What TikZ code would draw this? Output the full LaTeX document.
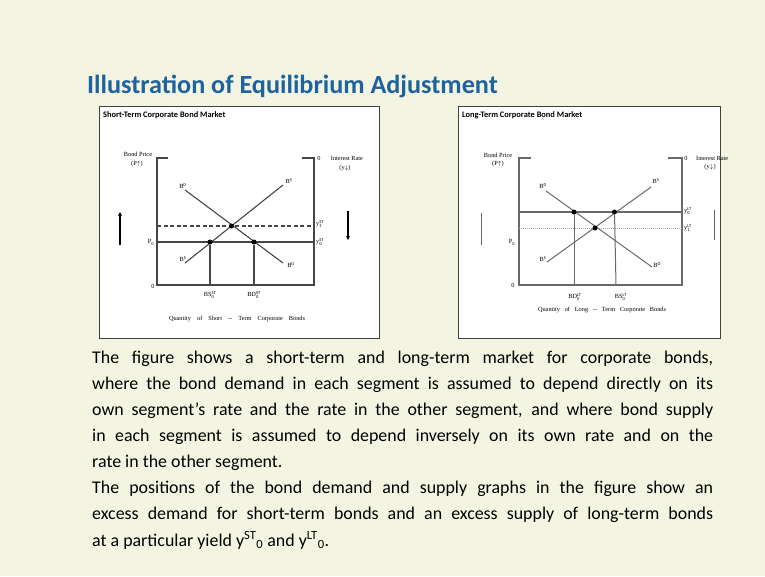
\documentclass[tikz,border=0pt]{standalone}
\usepackage{fontspec}
\setmainfont{Carlito}
\newfontfamily\tms{Liberation Serif}
\usetikzlibrary{arrows.meta}
\definecolor{slidebg}{RGB}{243,245,226}
\definecolor{titleblue}{RGB}{30,98,158}
\definecolor{lineL}{RGB}{70,70,70}
\definecolor{lineR}{RGB}{105,105,105}
\newcommand{\supsubx}[2]{\ensuremath{{}^{\mathrm{#1}}_{\mathrm{#2}}}}
\tikzset{
  panel/.style={draw=black!75, line width=1.2pt, fill=white},
  ptitle/.style={anchor=west, inner sep=0pt, font=\bfseries\fontsize{8.4}{9}\selectfont},
  lab/.style={inner sep=0pt, font=\tms\fontsize{6.3}{7}\selectfont},
  ax/.style={line width=1.1pt},
  dot/.style={circle, fill=black, inner sep=0pt, minimum size=5pt},
  body/.style={anchor=base west, inner sep=0pt, font=\fontsize{17.9}{26}\selectfont},
}
\begin{document}
\begin{tikzpicture}[x=1pt,y=-1pt]
\fill[slidebg] (0,0) rectangle (765,576);
\useasboundingbox (0,0) rectangle (765,576);

% title
\node[anchor=base west, inner sep=0pt, text=titleblue, font=\bfseries\fontsize{26.2}{30}\selectfont] (title) at (87,93) {Illustration of Equilibrium Adjustment};

% ---------------- left panel ----------------
\node[panel, minimum width=280pt, minimum height=232pt, anchor=north west, inner sep=0pt] (pL) at (99,106) {};
\node[ptitle] (tL) at (103,115) {Short-Term Corporate Bond Market};
\begin{scope}[lineL]
\coordinate (LO) at (157,285);
\coordinate (LT) at (157,158);
\coordinate (LR) at (314,285);
\coordinate (LRT) at (314,158);
\draw[ax] (168,158) -- (LT) -- (LO) -- (LR) -- (LRT) -- (302,158);
\coordinate (dL1) at (185,190);
\coordinate (dL2) at (283,263);
\coordinate (sL1) at (185,263);
\coordinate (sL2) at (283,185);
\draw[line width=1.1pt] (dL1) -- (dL2);
\draw[line width=1.1pt] (sL1) -- (sL2);
\draw[line width=1.1pt, dash pattern=on 4pt off 2.5pt] (157,226) -- (314,226);
\draw[line width=1.1pt] (157,242) -- (314,242);
\end{scope}
\node[dot] (eL) at (231.5,226) {};
\node[dot] (aL) at (210,242) {};
\node[dot] (bL) at (254,242) {};
\draw[lineL, line width=1.1pt] (aL) -- (210,285);
\draw[lineL, line width=1.1pt] (bL) -- (254,285);
\node[lab] at (183,187) {B\supsubx{D}{}};
\node[lab] at (289,182) {B\supsubx{S}{}};
\node[lab] at (183,260) {B\supsubx{S}{}};
\node[lab] at (291,266) {B\supsubx{D}{}};
\node[lab] at (151,242) {P\supsubx{}{0}};
\node[lab] at (153,286) {0};
\node[lab] at (319,158) {0};
\node[lab, anchor=west] at (316,224) {y\supsubx{ST}{1}};
\node[lab, anchor=west] at (316,242) {y\supsubx{ST}{0}};
\node[lab] at (210,295) {BS\supsubx{ST}{0}};
\node[lab] at (254,295) {BD\supsubx{ST}{0}};
\node[lab] at (138,154) {Bond Price};
\node[lab] at (137,164) {(P$\uparrow$)};
\node[lab] at (347,158) {Interest Rate};
\node[lab] at (345,168) {(y$\downarrow$)};
\node[lab] at (237,319) {\makebox[136pt][s]{Quantity of Short -- Term Corporate Bonds}};
\coordinate (upB) at (120,245);
\coordinate (upT) at (120,212);
\draw[line width=1.8pt, -{Stealth[length=4pt,width=4pt]}] (upB) -- (upT);
\coordinate (dnT) at (348,211);
\coordinate (dnB) at (348,240);
\draw[line width=1.8pt, -{Stealth[length=4pt,width=4pt]}] (dnT) -- (dnB);

% ---------------- right panel ----------------
\node[panel, minimum width=262pt, minimum height=232pt, anchor=north west, inner sep=0pt] (pR) at (458,106) {};
\node[ptitle] (tR) at (462,115) {Long-Term Corporate Bond Market};
\begin{scope}[lineR]
\draw[ax] (531,158) -- (519,158) -- (519,285) -- (682,285) -- (682,158) -- (668,158);
\coordinate (dR1) at (546,191);
\coordinate (dR2) at (652,267);
\coordinate (sR1) at (547,262);
\coordinate (sR2) at (651,187);
\draw[line width=1pt] (dR1) -- (dR2);
\draw[line width=1pt] (sR1) -- (sR2);
\draw[line width=1.1pt] (519,212) -- (682,212);
\draw[line width=0.6pt, black!35, dash pattern=on 1pt off 1pt] (519,228) -- (682,228);
\end{scope}
\node[dot] (eR) at (595,228) {};
\node[dot] (aR) at (574,212) {};
\node[dot] (bR) at (614.5,212) {};
\draw[lineR, line width=1pt] (aR) -- (574,285);
\draw[lineR, line width=1pt] (bR) -- (616,285);
\node[lab] at (543,187) {B\supsubx{D}{}};
\node[lab] at (656,182) {B\supsubx{S}{}};
\node[lab] at (543,260) {B\supsubx{S}{}};
\node[lab] at (657,266) {B\supsubx{D}{}};
\node[lab] at (512,242) {P\supsubx{}{0}};
\node[lab] at (513,285) {0};
\node[lab] at (686,158) {0};
\node[lab, anchor=west] at (684,211) {y\supsubx{LT}{0}};
\node[lab, anchor=west] at (684,228) {y\supsubx{LT}{1}};
\node[lab] at (575,297) {BD\supsubx{LT}{0}};
\node[lab] at (621,297) {BS\supsubx{LT}{0}};
\node[lab] at (498,155) {Bond Price};
\node[lab] at (498,164) {(P$\uparrow$)};
\node[lab, anchor=west] at (696,158) {Interest Rate};
\node[lab] at (710,167) {(y$\downarrow$)};
\node[lab] at (602,310) {\makebox[128pt][s]{Quantity of Long -- Term Corporate Bonds}};
\coordinate (lvT) at (481,213);
\coordinate (lvB) at (481,245);
\draw[black!60, line width=0.8pt] (lvT) -- (lvB);
\coordinate (rvT) at (714,210);
\coordinate (rvB) at (714,240);
\draw[black!60, line width=0.8pt] (rvT) -- (rvB);

% ---------------- body text ----------------
\node[body] (l1) at (92,363) {\makebox[621pt][s]{The figure shows a short-term and long-term market for corporate bonds,}};
\node[body] (l2) at (92,389) {\makebox[621pt][s]{where the bond demand in each segment is assumed to depend directly on its}};
\node[body] (l3) at (92,415) {\makebox[621pt][s]{own segment’s rate and the rate in the other segment, and where bond supply}};
\node[body] (l4) at (92,441) {\makebox[621pt][s]{in each segment is assumed to depend inversely on its own rate and on the}};
\node[body] (l5) at (92,467) {rate in the other segment.};
\node[body] (l6) at (92,493) {\makebox[621pt][s]{The positions of the bond demand and supply graphs in the figure show an}};
\node[body] (l7) at (92,519) {\makebox[621pt][s]{excess demand for short-term bonds and an excess supply of long-term bonds}};
\node[body] (l8) at (92,546) {at a particular yield y\textsuperscript{ST}\textsubscript{0} and y\textsuperscript{LT}\textsubscript{0}.};
\end{tikzpicture}
\end{document}
